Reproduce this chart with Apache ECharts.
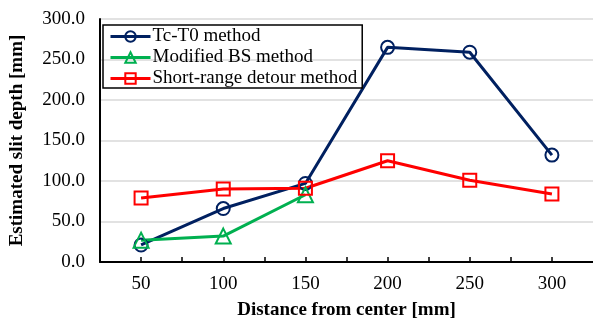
<!DOCTYPE html>
<html><head><meta charset="utf-8">
<script src="https://cdn.jsdelivr.net/npm/echarts@6/dist/echarts.min.js"></script>
<style>html,body{margin:0;padding:0;background:#fff}#c{width:593px;height:325px}</style>
</head><body><div id="c"></div>
<script>
const distances = [50, 100, 150, 200, 250, 300];
const tcT0 = [21, 66, 97, 265, 259, 132];
const modifiedBS = [27, 32, 83, null, null, null];
const shortRange = [79, 90, 91, 125, 101, 84];
const seriesNames = ['Tc-T0 method', 'Modified BS method', 'Short-range detour method'];
const yTicks = [0, 50, 100, 150, 200, 250, 300];

const font = 'Liberation Serif, Times New Roman, serif';
const colors = ['#002060', '#00B050', '#FF0000'];
const symbols = ['circle', 'triangle', 'rect'];
const datasets = [tcT0, modifiedBS, shortRange];

const chart = echarts.init(document.getElementById('c'), null, {renderer: 'canvas'});
chart.setOption({
  animation: false,
  grid: {left: 98, right: -4, top: 19, bottom: 58.5, containLabel: false},
  legend: {
    orient: 'vertical', left: 103, top: 25,
    data: seriesNames,
    itemWidth: 40, itemHeight: 13, itemGap: 2,
    padding: [2, 5, 0, 6],
    borderColor: '#000', borderWidth: 1.5,
    lineStyle: {width: 3},
    textStyle: {fontFamily: font, fontSize: 19, color: '#000', padding: [0,0,0,-3]}
  },
  xAxis: {
    type: 'value', min: 25, max: 325, interval: 25,
    name: 'Distance from center [mm]', nameLocation: 'middle', nameGap: 39,
    nameTextStyle: {fontFamily: font, fontSize: 19, fontWeight: 'bold', color: '#000'},
    axisLine: {lineStyle: {color: '#000', width: 2}},
    axisTick: {inside: true, length: 5, lineStyle: {color: '#000', width: 1.5}},
    axisLabel: {
      fontFamily: font, fontSize: 19, color: '#000', margin: 13,
      showMinLabel: false, showMaxLabel: false,
      formatter: v => distances.includes(v) ? String(v) : ''
    },
    splitLine: {show: false}
  },
  yAxis: {
    type: 'value', min: yTicks[0], max: yTicks[yTicks.length-1], interval: 50,
    name: 'Estimated slit depth [mm]', nameLocation: 'middle', nameGap: 73,
    nameTextStyle: {fontFamily: font, fontSize: 19, fontWeight: 'bold', color: '#000'},
    axisLine: {show: true, lineStyle: {color: '#000', width: 2}},
    axisTick: {show: false},
    axisLabel: {fontFamily: font, fontSize: 19, color: '#000', margin: 15, formatter: v => v.toFixed(1)},
    splitLine: {lineStyle: {color: '#d9d9d9', width: 1.5}}
  },
  series: seriesNames.map((n, i) => ({
    name: n, type: 'line',
    data: distances.map((d, j) => datasets[i][j] == null ? null : [d, datasets[i][j]]).filter(p => p),
    symbol: symbols[i], symbolSize: i === 1 ? 15 : 13,
    lineStyle: {color: colors[i], width: 3},
    itemStyle: {color: 'rgba(255,255,255,0)', borderColor: colors[i], borderWidth: 2},
    emphasis: {disabled: true}
  }))
});
</script></body></html>
